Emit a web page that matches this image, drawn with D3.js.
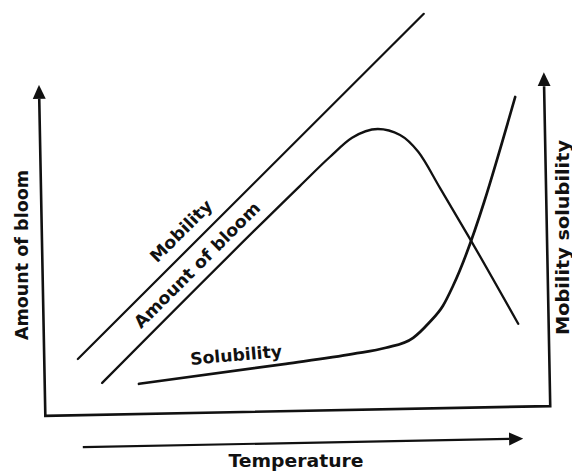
<!DOCTYPE html>
<html>
<head>
<meta charset="utf-8">
<script src="https://cdn.jsdelivr.net/npm/d3@7"></script>
<style>
  body { margin: 0; background: #fff; }
  svg text { font-family: "DejaVu Sans", sans-serif; font-weight: bold; fill: #111; }
</style>
</head>
<body>
<svg id="chart" width="572" height="471"></svg>
<script>

// schematic values, temperature (x) and amount (y) on a 0..100 scale
var mobilityT   = [7.1, 75.6];
var mobilityV   = [13.0, 99.3];
var bloomT      = [11.9, 51.1, 57.0, 61.4, 66.5, 70.9, 74.5, 78.8, 84.4, 94.3];
var bloomV      = [7.0, 56.3, 63.5, 68.3, 70.5, 69.0, 64.8, 55.8, 43.8, 21.8];
var solubilityT = [19.2, 48.3, 61.6, 68.1, 73.5, 76.6, 79.4, 81.4, 93.7];
var solubilityV = [6.8, 11.8, 14.3, 15.8, 18.3, 22.0, 26.3, 31.3, 78.5];

var curveLabels = ["Mobility", "Amount of bloom", "Solubility"];
var xTitle = "Temperature";
var yTitleLeft = "Amount of bloom";
var yTitleRight = "Mobility solubility";


var chart = {};

function setup() {
    chart.svg = d3.select("#chart");
    chart.x = d3.scaleLinear().domain([0, 100]).range([42, 547]);
    chart.y = d3.scaleLinear().domain([0, 100]).range([411, 11]);
    chart.arrow = 14;

    var defs = chart.svg.append("defs");
    defs.append("marker")
        .attr("id", "head")
        .attr("markerUnits", "userSpaceOnUse")
        .attr("viewBox", "0 -7 14 14")
        .attr("refX", 0).attr("refY", 0)
        .attr("markerWidth", 14).attr("markerHeight", 14)
        .attr("orient", "auto-start-reverse")
      .append("path")
        .attr("d", "M0,-6.5L14,0L0,6.5Z")
        .attr("fill", "#111");

    draw_frame();
    draw_curves();
    draw_titles();
}


function draw_frame() {
    var x = chart.x, y = chart.y;
    // the scan is tilted a little, so the frame is too
    var frame = chart.svg.append("g")
        .attr("transform", "rotate(-1.1, 294, 240)")
        .attr("fill", "none")
        .attr("stroke", "#111")
        .attr("stroke-width", 2.6);

    var corners = [
        [x(0),   y(82.75) + chart.arrow],
        [x(0),   y(0)],
        [x(100), y(0)],
        [x(100), y(83.5) + chart.arrow]
    ];
    frame.append("path")
        .attr("d", d3.line()(corners))
        .attr("stroke-linejoin", "miter")
        .attr("marker-start", "url(#head)")
        .attr("marker-end", "url(#head)");

    // temperature arrow under the chart
    frame.append("line")
        .attr("x1", x(7.3)).attr("y1", y(-8))
        .attr("x2", x(94.5) - chart.arrow).attr("y2", y(-8))
        .attr("stroke-width", 2.2)
        .attr("marker-end", "url(#head)");
}


function draw_curves() {
    var x = chart.x, y = chart.y;
    var line = d3.line()
        .x(d => x(d[0]))
        .y(d => y(d[1]))
        .curve(d3.curveMonotoneX);

    var series = [
        {name: curveLabels[0], pts: d3.zip(mobilityT, mobilityV),     w: 2.2},
        {name: curveLabels[1], pts: d3.zip(bloomT, bloomV),           w: 2.3},
        {name: curveLabels[2], pts: d3.zip(solubilityT, solubilityV), w: 2.7}
    ];

    chart.svg.append("g")
        .attr("fill", "none")
        .attr("stroke", "#111")
        .attr("stroke-linecap", "round")
      .selectAll("path")
      .data(series)
      .join("path")
        .attr("d", d => line(d.pts))
        .attr("stroke-width", d => d.w);

    // labels sitting on the curves
    var spots = [
        {cx: 181, cy: 231, angle: -45, len: 80},
        {cx: 197, cy: 265, angle: -45, len: 170},
        {cx: 236, cy: 355, angle: -5,  len: 92}
    ];
    chart.svg.append("g")
      .selectAll("text")
      .data(spots)
      .join("text")
        .attr("transform", d => `translate(${d.cx},${d.cy}) rotate(${d.angle})`)
        .attr("text-anchor", "middle")
        .attr("dy", "0.35em")
        .attr("font-size", 17)
        .attr("textLength", d => d.len)
        .attr("lengthAdjust", "spacingAndGlyphs")
        .text((d, i) => curveLabels[i]);
}


function draw_titles() {
    chart.svg.append("text")
        .attr("transform", "translate(22.5,255) rotate(-90)")
        .attr("text-anchor", "middle")
        .attr("dy", "0.35em")
        .attr("font-size", 17)
        .attr("textLength", 170)
        .attr("lengthAdjust", "spacingAndGlyphs")
        .text(yTitleLeft);

    chart.svg.append("text")
        .attr("transform", "translate(563.5,237.5) rotate(-90)")
        .attr("text-anchor", "middle")
        .attr("dy", "0.35em")
        .attr("font-size", 17)
        .attr("textLength", 195)
        .attr("lengthAdjust", "spacingAndGlyphs")
        .text(yTitleRight);

    chart.svg.append("text")
        .attr("x", 296).attr("y", 467)
        .attr("text-anchor", "middle")
        .attr("font-size", 17)
        .attr("textLength", 135)
        .attr("lengthAdjust", "spacingAndGlyphs")
        .text(xTitle);
}


window.addEventListener('load', setup)
</script>
</body>
</html>
